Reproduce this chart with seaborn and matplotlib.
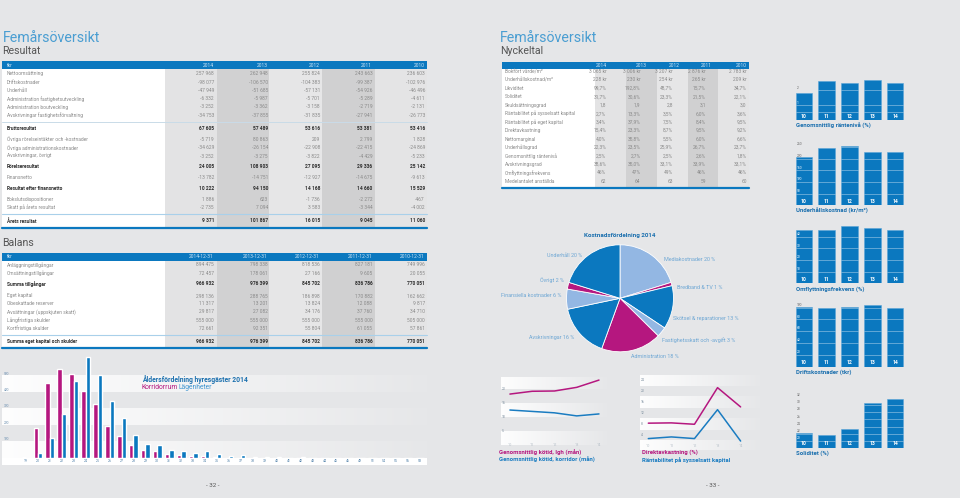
import numpy as np
import pandas as pd
import matplotlib
matplotlib.use('Agg')
import matplotlib.pyplot as plt
import seaborn as sns
from matplotlib.patches import Rectangle
from matplotlib.lines import Line2D

# ---------------- DATA ----------------
res_years = ['2014', '2013', '2012', '2011', '2010']
res_rows = ['Nettoomsättning', 'Driftskostnader', 'Underhåll',
            'Administration fastighetsutveckling', 'Administration boutveckling',
            'Avskrivningar fastighetsförvaltning', 'Bruttoresultat',
            'Övriga rörelseintäkter och -kostnader', 'Övriga administrationskostnader',
            'Avskrivningar, övrigt', 'Rörelseresultat', 'Finansnetto',
            'Resultat efter finansnetto', 'Bokslutsdispositioner',
            'Skatt på årets resultat', 'Årets resultat']
res_values = [
    [257968, 262948, 255824, 243663, 236603],
    [-98077, -106570, -104383, -99387, -102976],
    [-47949, -51685, -57131, -54926, -46496],
    [-6332, -5987, -5701, -5289, -4611],
    [-3252, -3362, -3158, -2719, -2131],
    [-34753, -37855, -31835, -27941, -26773],
    [67605, 57489, 53616, 53381, 53416],
    [-5719, 80863, 209, 2799, 1828],
    [-34629, -26154, -22908, -22415, -24869],
    [-3252, -3275, -3822, -4429, -5233],
    [24005, 108903, 27095, 29336, 25142],
    [-13782, -14751, -12927, -14675, -9613],
    [10222, 94150, 14168, 14660, 15529],
    [1886, 623, -1736, -2272, -467],
    [-2735, 7094, 3583, -3344, -4002],
    [9371, 101867, 16015, 9045, 11060],
]
res_bold = ['Bruttoresultat', 'Rörelseresultat', 'Resultat efter finansnetto', 'Årets resultat']

bal_years = ['2014-12-31', '2013-12-31', '2012-12-31', '2011-12-31', '2010-12-31']
bal_rows = ['Anläggningstillgångar', 'Omsättningstillgångar', 'Summa tillgångar',
            'Eget kapital', 'Obeskattade reserver', 'Avsättningar (uppskjuten skatt)',
            'Långfristiga skulder', 'Kortfristiga skulder', 'Summa eget kapital och skulder']
bal_values = [
    [894475, 798338, 818536, 827181, 749996],
    [72457, 178061, 27166, 9605, 20055],
    [966932, 976399, 845702, 836786, 770051],
    [298136, 288765, 186898, 170882, 162662],
    [11317, 13201, 13824, 12088, 9817],
    [29817, 27082, 34176, 37760, 34710],
    [555000, 555000, 555000, 555000, 505000],
    [72661, 92351, 55804, 61055, 57861],
    [966932, 976399, 845702, 836786, 770051],
]
bal_bold = ['Summa tillgångar', 'Summa eget kapital och skulder']

nyk_years = ['2014', '2013', '2012', '2011', '2010']
nyk_rows = ['Bokfört värde/m²', 'Underhållskostnad/m²', 'Likviditet', 'Soliditet',
            'Skuldsättningsgrad', 'Räntabilitet på sysselsatt kapital',
            'Räntabilitet på eget kapital', 'Direktavkastning', 'Nettomarginal',
            'Underhållsgrad', 'Genomsnittlig räntenivå', 'Avskrivningsgrad',
            'Omflyttningsfrekvens', 'Medelantalet anställda']
nyk_values = [
    [3065, 3006, 3207, 2876, 2783],
    [228, 230, 254, 265, 209],
    [99.7, 192.8, 48.7, 15.7, 34.7],
    [31.7, 30.6, 23.3, 21.5, 22.1],
    [1.8, 1.9, 2.8, 3.1, 3.0],
    [2.7, 13.3, 3.5, 6.0, 3.6],
    [3.4, 37.9, 7.5, 8.4, 9.5],
    [15.4, 23.3, 8.7, 9.5, 9.2],
    [4.0, 35.8, 5.5, 6.0, 6.6],
    [22.3, 23.5, 25.9, 26.7, 23.7],
    [2.5, 2.7, 2.5, 2.6, 1.8],
    [38.6, 35.0, 33.1, 33.9, 33.1],
    [46, 47, 49, 46, 46],
    [62, 64, 63, 59, 60],
]
nyk_units = ['kr', 'kr', '%', '%', '', '%', '%', '%', '%', '%', '%', '%', '%0', 'n']

ages = ['19', '20', '21', '22', '23', '24', '25', '26', '27', '28', '29', '30', '31', '32',
        '33', '34', '35', '36', '37', '38', '39', '40', '41', '42', '43', '44', '45', '46',
        '49', '51', '54', '55', '56', '58']
korridorrum = [6, 182, 457, 543, 512, 410, 327, 196, 135, 82, 49, 43, 24, 16, 10, 10, 4, 3,
               2, 2, 1, 1, 1, 0, 1, 0, 0, 1, 0, 0, 0, 0, 0, 0]
lagenheter = [0, 33, 124, 271, 469, 614, 504, 345, 245, 139, 84, 80, 49, 45, 29, 41, 24, 10,
              16, 6, 8, 4, 2, 4, 2, 1, 3, 3, 1, 1, 1, 1, 1, 1]

kpi_years = ['10', '11', '12', '13', '14']
rantenivå = [1.8, 2.6, 2.5, 2.7, 2.5]
underhall_kr = [209, 244, 254, 230, 228]
omflyttning = [46, 46, 49, 47, 46]
driftskostnader = [101.5, 98.6, 101.4, 104.2, 98.6]
soliditet = [22.1, 21.5, 23.3, 30.6, 31.7]

line_years = [10, 11, 12, 13, 14]
kotid_lgh = [18.2, 19.2, 19.3, 20.6, 23.2]
kotid_korridor = [12.5, 12.0, 11.5, 10.4, 11.1]
direktavkastning = [8.4, 8.5, 8.0, 21.3, 14.3]
rantab_syss = [2.8, 3.4, 2.8, 13.3, 1.9]

cost_labels = ['Mediakostnader', 'Bredband & TV', 'Skötsel & reparationer',
               'Fastighetsskatt och -avgift', 'Administration', 'Avskrivningar',
               'Finansiella kostnader', 'Övrigt', 'Underhåll']
cost_pct = [20, 1, 13, 3, 18, 16, 6, 2, 20]

# ---------------- STYLE ----------------
W, H = 960, 498
BG = '#e5e6e8'
BLUE = '#0b78bf'
MAG = '#b5177f'
LBLUE = '#93b7e3'
TBLUE = '#4a9ed2'
GREY = '#8a8a8a'
DARK = '#2e2e2e'
SEP = '#a9d0ea'

sns.set_theme(style='white')
plt.rcParams['font.family'] = ['Roboto', 'DejaVu Sans']

fig = plt.figure(figsize=(9.6, 4.98), dpi=100, facecolor=BG)


def T(x, y, s, **kw):
    kw.setdefault('va', 'center')
    kw.setdefault('fontsize', 3.5)
    kw.setdefault('color', GREY)
    fig.text(x / W, 1 - y / H, s, **kw)


def R(x0, y0, x1, y1, color, z=0.1):
    fig.add_artist(Rectangle((x0 / W, 1 - y1 / H), (x1 - x0) / W, (y1 - y0) / H,
                             transform=fig.transFigure, facecolor=color,
                             edgecolor='none', zorder=z))


def L(x0, x1, y, color, lw):
    fig.add_artist(Line2D([x0 / W, x1 / W], [1 - y / H, 1 - y / H],
                          transform=fig.transFigure, color=color, lw=lw, zorder=0.5))


def fmt_int(v):
    s = f"{abs(v):,}".replace(',', ' ')
    return ('-' if v < 0 else '') + s


def fmt_nyk(v, u):
    if u == 'kr':
        return fmt_int(v) + ' kr'
    if u == '%':
        return f"{v:.1f}%".replace('.', ',')
    if u == '%0':
        return f"{v}%"
    if u == '':
        return f"{v:.1f}".replace('.', ',')
    return str(v)


def ax_px(x0, y0, x1, y1):
    a = fig.add_axes([x0 / W, 1 - y1 / H, (x1 - x0) / W, (y1 - y0) / H])
    a.set_facecolor('none')
    for s in a.spines.values():
        s.set_visible(False)
    a.set_xticks([])
    a.set_yticks([])
    a.set_xlabel('')
    a.set_ylabel('')
    return a


def gradient_band(ax, x0, x1, y0, y1):
    g = np.ones((1, 256, 4))
    g[0, :, 3] = np.linspace(0.95, 0.05, 256)
    ax.imshow(g, extent=[x0, x1, y0, y1], aspect='auto', zorder=0,
              interpolation='bilinear')


# ---------------- titles ----------------
T(2.5, 41.5, 'Femårsöversikt', fontsize=10.2, color=TBLUE, va='baseline')
T(2.5, 54.5, 'Resultat', fontsize=7.6, color='#555555', va='baseline')
T(500, 41.5, 'Femårsöversikt', fontsize=10.2, color=TBLUE, va='baseline')
T(500, 54.5, 'Nyckeltal', fontsize=7.6, color='#555555', va='baseline')

# ---------------- Resultat table ----------------
col_edges = [165, 217, 269, 322, 375, 427]
col_cols = ['#e3e3e4', '#d1d1d2', '#e6e6e7', '#d0d0d1', '#e4e4e5']
val_x = [214, 268, 320, 372.3, 425]


def draw_table(y_head0, y_head1, y_end, rows, values, bold, years, row_y, head_first):
    R(2, y_head1, col_edges[0], y_end, 'white')
    for i in range(5):
        R(col_edges[i], y_head1, col_edges[i + 1], y_end, col_cols[i])
    R(2, y_head0, 427, y_head1, BLUE, z=0.3)
    yc = (y_head0 + y_head1) / 2
    T(7, yc, head_first, color='#cfe6f7', zorder=1)
    for i, yr in enumerate(years):
        T(val_x[i], yc, yr, color='#cfe6f7', ha='right', zorder=1)
    for r, lab in enumerate(rows):
        b = lab in bold
        T(7, row_y[r], lab, color=DARK if b else GREY, fontweight='bold' if b else 'normal', zorder=1)
        for i in range(5):
            T(val_x[i], row_y[r], fmt_int(values[r][i]), ha='right',
              color=DARK if b else GREY, fontweight='bold' if b else 'normal', zorder=1)


res_row_y = [73.7, 82, 90.3, 98.7, 107, 115.3, 129, 139.3, 147.7, 156, 167, 177.3,
             188.3, 199.3, 207.3, 221]
draw_table(61, 69.3, 227, res_rows, res_values, res_bold, res_years, res_row_y, 'tkr')
L(2, 427, 121.5, '#c9dbe8', 0.7)
L(2, 427, 214.3, SEP, 0.8)
L(2, 427, 227.5, BLUE, 1.6)

T(2.5, 246, 'Balans', fontsize=7.6, color='#555555', va='baseline')
bal_row_y = [265, 273.3, 283.7, 296, 303.3, 311.7, 320, 328.3, 341.7]
draw_table(252.5, 260.7, 347, bal_rows, bal_values, bal_bold, bal_years, bal_row_y, 'tkr')
L(2, 427, 334.5, SEP, 0.8)
L(2, 427, 347.5, BLUE, 1.6)

# ---------------- Age distribution bar chart ----------------
R(2, 458, 427, 465, 'white', z=-1)
ax = ax_px(2, 350, 427, 458)
age_df = pd.DataFrame({
    'Ålder': ages * 2,
    'Antal': korridorrum + lagenheter,
    'Typ': ['Korridorrum'] * len(ages) + ['Lägenheter'] * len(ages),
})
sns.barplot(data=age_df, x='Ålder', y='Antal', hue='Typ', order=ages,
            palette=[MAG, BLUE], saturation=1, width=0.74, ax=ax, legend=False, zorder=2)
xl, xr = -2.01, 33.59
for b0 in [0, 200, 400]:
    gradient_band(ax, xl, xr, b0, b0 + 100)
ax.set_xlim(xl, xr)
ax.set_ylim(0, 658)
ax.set_xticks([]); ax.set_yticks([]); ax.set_xlabel(''); ax.set_ylabel('')
for v in [100, 200, 300, 400, 500]:
    ax.text(xl + 0.12, v + 14, str(v), fontsize=2.3, color='#6b8fb0', va='center', ha='left')
for i, a in enumerate(ages):
    ax.text(i, -0.032, a, transform=ax.get_xaxis_transform(), fontsize=2.5,
            color='#4d7ea8', ha='center', va='center', clip_on=False)
T(141.7, 380, 'Åldersfördelning hyresgäster 2014', fontsize=4.9, color='#1a6fae', fontweight='bold')
T(141.7, 387.7, 'Korridorrum', fontsize=4.9, color=MAG)
T(178.3, 387.7, 'Lägenheter', fontsize=4.9, color='#3f95d0')
T(213, 485, '- 32 -', fontsize=4.5, color='#555555', ha='center')

# ---------------- Nyckeltal table ----------------
nk_edges = [595, 626, 657, 688, 718, 749]
nk_head_x = [606.7, 646.7, 680, 712.3, 746.7]
nk_val_x = [606.3, 640.5, 673, 706, 746.7]
R(502, 68.6, nk_edges[0], 187, 'white')
for i in range(5):
    R(nk_edges[i], 68.6, nk_edges[i + 1], 187, col_cols[i])
R(502, 62.3, 749, 68.6, BLUE, z=0.3)
for i, yr in enumerate(nyk_years):
    T(nk_head_x[i], 65.5, yr, color='#cfe6f7', ha='right', zorder=1)
for r, lab in enumerate(nyk_rows):
    y = 71.4 + r * 8.45
    T(505, y, lab, zorder=1)
    for i in range(5):
        T(nk_val_x[i], y, fmt_nyk(nyk_values[r][i], nyk_units[r]), ha='right', zorder=1)
L(502, 749, 187.8, BLUE, 1.6)

# ---------------- Small KPI bar charts ----------------
BX0, BX1 = 792.6, 906.4


def kpi_chart(vals, zero_px, scale, ymin, ymax, ticks, title, title_y, extra_sep=None):
    top_px = zero_px - (ymax - ymin) * scale
    a = ax_px(BX0, top_px, BX1, zero_px)
    d = pd.DataFrame({'År': kpi_years, 'Värde': vals})
    sns.barplot(data=d, x='År', y='Värde', color=BLUE, saturation=1, width=0.73, ax=a,
                edgecolor='#5aa5d8', linewidth=0.4, zorder=2)
    a.set_xlim(-0.5, 4.5)
    a.set_ylim(ymin, ymax)
    a.set_xticks([]); a.set_yticks([]); a.set_xlabel(''); a.set_ylabel('')
    seps = list(ticks) + ([extra_sep] if extra_sep is not None else [])
    for p in a.patches:
        x0 = p.get_x(); w = p.get_width(); top = p.get_y() + p.get_height()
        for t in seps:
            if ymin < t < top:
                a.hlines(t, x0, x0 + w, color='#ffffff', lw=0.45, alpha=0.55, zorder=3)
    for i, yl in enumerate(kpi_years):
        a.text(i, ymin + 4.2 / scale, yl, color='white', fontsize=3.7, fontweight='bold',
               ha='center', va='center', zorder=4)
    for t in ticks:
        c = 'white' if t + 2.7 / scale < vals[0] else '#666666'
        a.text(-0.31, t + 2.7 / scale, str(t), fontsize=2.3, color=c, ha='left',
               va='center', zorder=4)
    T(796, title_y, title, fontsize=4.3, color='#1a6fae', fontweight='bold')


kpi_chart(rantenivå, 120.3, 15.0, 0, 2.89, [1, 2], 'Genomsnittlig räntenivå (%)', 125.5,
          extra_sep=0.57)
kpi_chart(underhall_kr, 205.3, 0.2333, 0, 267, [50, 100, 150, 200, 250],
          'Underhållskostnad (kr/m²)', 211)
kpi_chart(omflyttning, 283.3, 1.167, 0, 52.5, [10, 20, 30, 40],
          'Omflyttningsfrekvens (%)', 289.3)
kpi_chart(driftskostnader, 366.7, 0.5917, 0, 107.6, [20, 40, 60, 80, 100],
          'Driftskostnader (tkr)', 372.3)
kpi_chart(soliditet, 448, 3.583, 18, 33.4, [20, 22, 24, 26, 28, 30, 32],
          'Soliditet (%)', 453)

# ---------------- Pie chart ----------------
pcx, pcy, pr = 620, 298.3, 53.5
pax = fig.add_axes([(pcx - pr) / W, 1 - (pcy + pr) / H, 2 * pr / W, 2 * pr / H])
pax.set_facecolor('none')
pie_colors = [LBLUE, MAG, BLUE, LBLUE, MAG, BLUE, LBLUE, MAG, BLUE]
pax.pie(cost_pct, colors=pie_colors, startangle=90, counterclock=False, radius=1,
        wedgeprops=dict(edgecolor='white', linewidth=0.6))
pax.set_xlim(-1, 1); pax.set_ylim(-1, 1)
T(620, 235.7, 'Kostnadsfördelning 2014', fontsize=4.5, color='#1a6fae',
  fontweight='bold', ha='center')
pie_lab_pos = [(664, 259, 'left'), (676.7, 287.3, 'left'), (673, 318.3, 'left'),
               (661.7, 340, 'left'), (655, 356.7, 'center'), (574, 337.7, 'right'),
               (561.7, 295.3, 'right'), (564, 280, 'right'), (581.7, 255, 'right')]
for (x, y, ha), lab, p in zip(pie_lab_pos, cost_labels, cost_pct):
    T(x, y, f'{lab} {p} %', fontsize=3.9, color='#6ea7d4', ha=ha)

# ---------------- Line charts ----------------
def line_chart(x0px, x1px, top, bot, xlim, ylim, s1, s2, ticks, bands, lab1, lab2, lab_x):
    a = ax_px(x0px, top, x1px, bot)
    d = pd.DataFrame({'År': line_years * 2, 'Värde': s1 + s2,
                      'Serie': [lab1] * 5 + [lab2] * 5})
    sns.lineplot(data=d, x='År', y='Värde', hue='Serie', palette=[MAG, '#1a7cc1'],
                 linewidth=1.1, ax=a, legend=False, zorder=3)
    for b0, b1 in bands:
        gradient_band(a, xlim[0], xlim[1], b0, b1)
    a.set_xlim(*xlim); a.set_ylim(*ylim)
    a.set_xticks([]); a.set_yticks([]); a.set_xlabel(''); a.set_ylabel('')
    for t in ticks:
        a.text(xlim[0] + 0.05, t, str(t), fontsize=2.4, color='#7d8f9f', ha='left', va='center')
    for yv in line_years:
        a.text(yv, 0, str(yv), fontsize=2.9, color='#b9c2ca', ha='center', va='center')
    T(lab_x, 452.5, lab1, fontsize=4.3, color=MAG, fontweight='bold')
    T(lab_x, 460.3, lab2, fontsize=4.3, color='#1a7cc1', fontweight='bold')


line_chart(501, 607, 377, 449, (9.6, 14.36), (-1.43, 24.3), kotid_lgh, kotid_korridor,
           [5, 10, 15, 20], [(0, 5), (10, 15), (20, 24.3)],
           'Genomsnittlig kötid, lgh (mån)', 'Genomsnittlig kötid, korridor (mån)', 499.5)
line_chart(640, 760, 375, 450, (9.64, 14.84), (-1.35, 25.9), direktavkastning, rantab_syss,
           [4, 8, 12, 16, 20, 24], [(-1.35, 2), (6, 10), (14, 18), (22, 25.9)],
           'Direktavkastning (%)', 'Räntabilitet på sysselsatt kapital', 641.7)

T(713, 485, '- 33 -', fontsize=4.5, color='#555555', ha='center')

fig.savefig('out.png', dpi=100, facecolor=BG)
